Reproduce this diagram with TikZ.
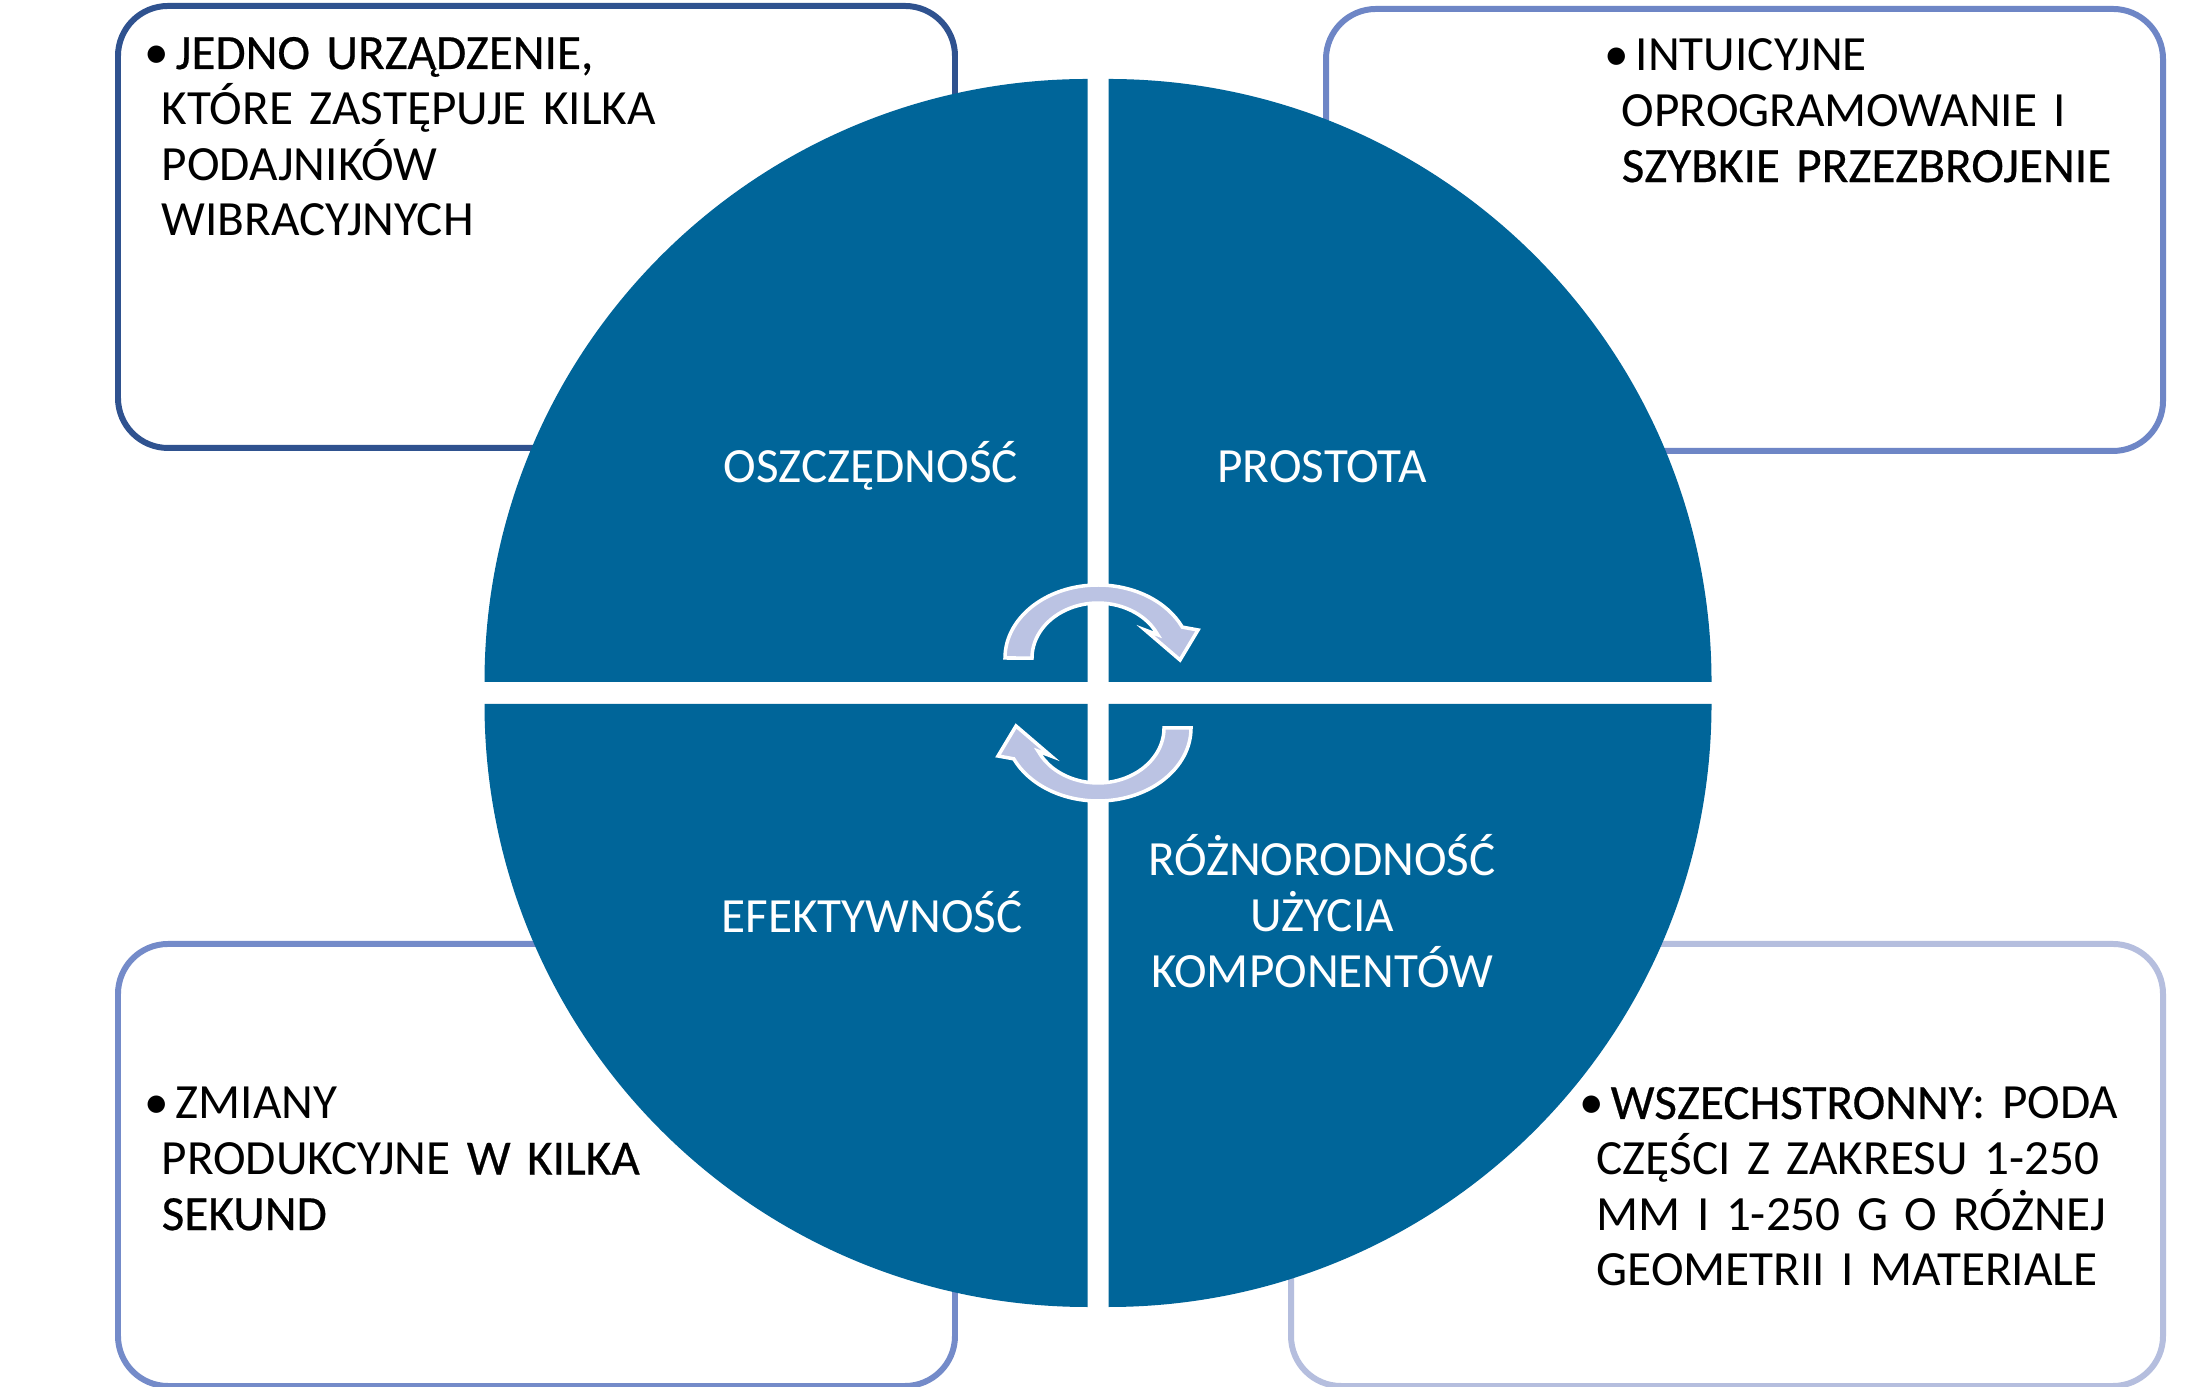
\documentclass[tikz,border=0pt]{standalone}
\usepackage{fontspec}
\setmainfont{Carlito}
\newfontfamily\emfont[FakeBold=0.5]{Carlito}
\usepackage{xcolor}
\usepackage{tikz}
\usetikzlibrary{positioning}
\definecolor{wheelblue}{RGB}{0,101,153}
\definecolor{arrowlav}{RGB}{187,195,227}
\definecolor{frameA}{RGB}{47,82,143}
\definecolor{frameB}{RGB}{110,134,198}
\definecolor{frameC}{RGB}{116,139,201}
\definecolor{frameD}{RGB}{181,190,222}
\newcommand{\strongtxt}[1]{{\emfont #1}}
\newcommand{\bulletmark}{\hspace*{-0.17cm}\makebox[0.31cm][l]{\textbullet}}
\tikzset{
  infobox/.style={draw, rounded corners=0.5cm, fill=white, line width=1.7pt,
                  anchor=north west, inner sep=0pt},
  infotext/.style={anchor=base west, align=left, text width=6cm, inner sep=0pt,
                   font=\fontsize{14}{15.8}\selectfont},
  quadfill/.style={fill=wheelblue},
  quadlabel/.style={anchor=base, align=center, text width=4cm, inner sep=0pt,
                    text=white, font=\fontsize{14}{15.9}\selectfont},
  cyclearrow/.style={fill=arrowlav, draw=white, line width=1pt}
}

\begin{document}
\begin{tikzpicture}
\useasboundingbox[fill=white] (0,0) rectangle (21.95,13.86);
\coordinate (ctr) at (10.98,6.93);

% Frames behind the wheel
\node[infobox, draw=frameA, minimum width=8.37cm, minimum height=4.42cm] (boxSave) at (1.15,13.83) {};
\node[infobox, draw=frameB, minimum width=8.37cm, minimum height=4.42cm] (boxSimple) at (13.23,13.80) {};
\node[infobox, draw=frameC, minimum width=8.37cm, minimum height=4.42cm] (boxEffect) at (1.15,4.45) {};
\node[infobox, draw=frameD, minimum width=8.72cm, minimum height=4.42cm] (boxVariety) at (12.88,4.45) {};

% Wheel quarters
\foreach \sx/\sy/\a in {-1/1/90, 1/1/0, -1/-1/180, 1/-1/270}
  \fill[quadfill] ([shift={(\sx*0.105,\sy*0.11)}]ctr) -- ++(\a:6.03)
    arc[start angle=\a, delta angle=90, radius=6.03] -- cycle;

% Cycle arrows
\foreach \rot in {0,180}{
  \begin{scope}[shift={(ctr)}, rotate=\rot]
    \filldraw[cyclearrow] (0,0.35) ++(180:0.93 and 0.73)
      arc[start angle=180, end angle=25, x radius=0.93, y radius=0.73]
      -- (1.00,0.63) -- (0.82,0.33) -- (0.47,0.63) -- (0.598,0.582)
      arc[start angle=25, end angle=180, x radius=0.66, y radius=0.55] -- cycle;
  \end{scope}
}

% Quarter labels
\node[quadlabel] (lblSave) at ([shift={(-2.27,2.10)}]ctr) {OSZCZĘDNOŚĆ};
\node[quadlabel] (lblSimple) at ([shift={(2.24,2.10)}]ctr) {PROSTOTA};
\node[quadlabel] (lblEffect) at ([shift={(-2.26,-2.40)}]ctr) {EFEKTYWNOŚĆ};
\node[quadlabel] (lblVariety) at ([shift={(2.24,-1.83)}]ctr) {RÓŻNORODNOŚĆ\\ UŻYCIA\\ KOMPONENTÓW};

% Frame texts
\node[infotext] (txtSave) at ([shift={(0.46,-0.66)}]boxSave.north west)
  {\bulletmark\strongtxt{JEDNO URZĄDZENIE,}\\ KTÓRE ZASTĘPUJE KILKA\\ PODAJNIKÓW\\ WIBRACYJNYCH};
\node[infotext] (txtSimple) at ([shift={(2.98,-0.65)}]boxSimple.north west)
  {\bulletmark INTUICYJNE\\ OPROGRAMOWANIE I\\ \strongtxt{SZYBKIE PRZEZBROJENIE}};
\node[infotext] (txtEffect) at ([shift={(0.46,-1.78)}]boxEffect.north west)
  {\bulletmark ZMIANY\\ PRODUKCYJNE \strongtxt{W KILKA}\\ \strongtxt{SEKUND}};
\node[infotext] (txtVariety) at ([shift={(3.08,-1.78)}]boxVariety.north west)
  {\bulletmark\strongtxt{WSZECHSTRONNY}: PODA\\ CZĘŚCI Z ZAKRESU 1-250\\ MM I 1-250 G O RÓŻNEJ\\ GEOMETRII I MATERIALE};

\end{tikzpicture}
\end{document}
